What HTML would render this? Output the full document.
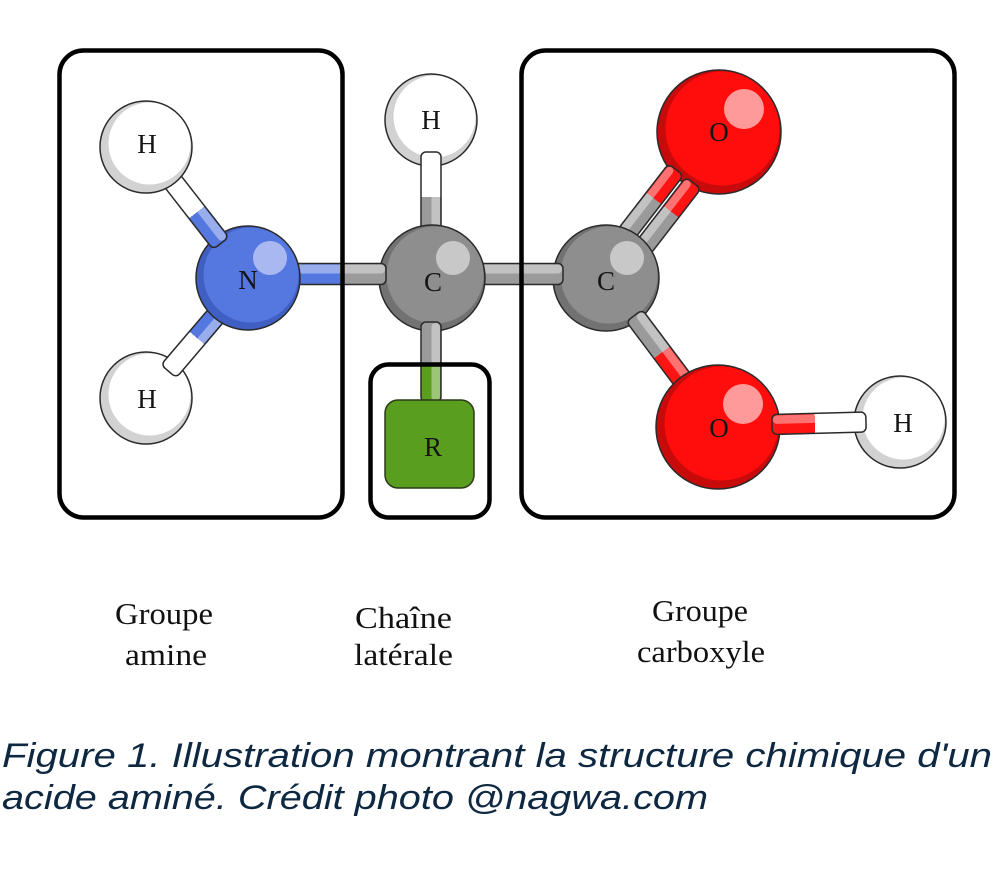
<!DOCTYPE html>
<html>
<head>
<meta charset="utf-8">
<style>
html,body{margin:0;padding:0;background:#fff;}
svg{display:block;}
</style>
</head>
<body>
<svg width="1002" height="876" viewBox="0 0 1002 876" xmlns="http://www.w3.org/2000/svg">
<defs>
  <linearGradient id="gB1"><stop offset="0.52" stop-color="#ffffff"/><stop offset="0.52" stop-color="#5577e0"/></linearGradient>
  <linearGradient id="gB2"><stop offset="0.47" stop-color="#5577e0"/><stop offset="0.47" stop-color="#ffffff"/></linearGradient>
  <linearGradient id="gB3"><stop offset="0.566" stop-color="#5577e0"/><stop offset="0.566" stop-color="#9a9a9a"/></linearGradient>
  <linearGradient id="gB4"><stop offset="0.417" stop-color="#ffffff"/><stop offset="0.417" stop-color="#9a9a9a"/></linearGradient>
  <linearGradient id="gB5"><stop offset="0.54" stop-color="#9a9a9a"/><stop offset="0.54" stop-color="#5a9e1e"/></linearGradient>
  <linearGradient id="gB7"><stop offset="0.59" stop-color="#9a9a9a"/><stop offset="0.59" stop-color="#ff1414"/></linearGradient>
  <linearGradient id="gB8"><stop offset="0.517" stop-color="#9a9a9a"/><stop offset="0.517" stop-color="#ff1414"/></linearGradient>
  <linearGradient id="gB9"><stop offset="0.457" stop-color="#ff1414"/><stop offset="0.457" stop-color="#ffffff"/></linearGradient>
</defs>

<g stroke-linejoin="round">
<!-- O1 -->
<circle cx="719" cy="132" r="62" fill="#c80a0a"/>
<circle cx="722.5" cy="128.5" r="57" fill="#ff0d0d"/>
<circle cx="744" cy="109" r="20" fill="#ff9a9a"/>
<circle cx="719" cy="132" r="62" fill="none" stroke="#2a2a2a" stroke-width="1.5"/>

<!-- B7a / B7b double bond -->
<g transform="translate(621.8,239.7) rotate(-52.3)">
  <rect x="0" y="-9.5" width="88.6" height="19" rx="5" fill="url(#gB7)" stroke="#2a2a2a" stroke-width="1.5"/>
  <rect x="1" y="-8.5" width="86.6" height="8" rx="4" fill="#fff" opacity="0.4"/>
</g>
<g transform="translate(639.2,253.1) rotate(-52.3)">
  <rect x="0" y="-9.5" width="88.6" height="19" rx="5" fill="url(#gB7)" stroke="#2a2a2a" stroke-width="1.5"/>
  <rect x="1" y="-8.5" width="86.6" height="8" rx="4" fill="#fff" opacity="0.4"/>
</g>

<!-- Cc -->
<circle cx="606" cy="278" r="53" fill="#727272"/>
<circle cx="609" cy="275" r="48.5" fill="#8e8e8e"/>
<circle cx="627" cy="258" r="17" fill="#c8c8c8"/>
<circle cx="606" cy="278" r="53" fill="none" stroke="#2a2a2a" stroke-width="1.5"/>

<!-- B8 -->
<g transform="translate(634.3,315.6) rotate(53.1)">
  <rect x="0" y="-10" width="89" height="20" rx="5" fill="url(#gB8)" stroke="#2a2a2a" stroke-width="1.5"/>
  <rect x="1" y="-9" width="87" height="8.5" rx="4" fill="#fff" opacity="0.4"/>
</g>

<!-- O2 -->
<circle cx="718" cy="427" r="62" fill="#c80a0a"/>
<circle cx="721.5" cy="423.5" r="57" fill="#ff0d0d"/>
<circle cx="743" cy="404" r="20" fill="#ff9a9a"/>
<circle cx="718" cy="427" r="62" fill="none" stroke="#2a2a2a" stroke-width="1.5"/>

<!-- H3 -->
<circle cx="900" cy="422" r="46" fill="#d2d2d2"/>
<circle cx="903.5" cy="418.5" r="41" fill="#ffffff"/>
<circle cx="900" cy="422" r="46" fill="none" stroke="#2a2a2a" stroke-width="1.5"/>

<!-- B9 -->
<g transform="translate(772,424.5) rotate(-1.5)">
  <rect x="0" y="-10" width="94" height="20" rx="5" fill="url(#gB9)" stroke="#2a2a2a" stroke-width="1.5"/>
  <rect x="1" y="-9" width="92" height="8.5" rx="4" fill="#fff" opacity="0.4"/>
</g>

<!-- B6 Ca-Cc -->
<g transform="translate(460,274)">
  <rect x="0" y="-10.5" width="103" height="21" rx="5" fill="#9a9a9a" stroke="#2a2a2a" stroke-width="1.5"/>
  <rect x="1" y="-9.5" width="101" height="9" rx="4" fill="#fff" opacity="0.4"/>
</g>

<!-- Ht -->
<circle cx="431" cy="120" r="46" fill="#d2d2d2"/>
<circle cx="434.5" cy="116.5" r="41" fill="#ffffff"/>
<circle cx="431" cy="120" r="46" fill="none" stroke="#2a2a2a" stroke-width="1.5"/>

<!-- B4 Ht-Ca -->
<g transform="translate(431,152) rotate(90)">
  <rect x="0" y="-10" width="108" height="20" rx="5" fill="url(#gB4)" stroke="#2a2a2a" stroke-width="1.5"/>
  <rect x="1" y="-9" width="106" height="8.5" rx="4" fill="#fff" opacity="0.4"/>
</g>

<!-- Ca -->
<circle cx="432" cy="278" r="53" fill="#727272"/>
<circle cx="435" cy="275" r="48.5" fill="#8e8e8e"/>
<circle cx="453" cy="258" r="17" fill="#c8c8c8"/>
<circle cx="432" cy="278" r="53" fill="none" stroke="#2a2a2a" stroke-width="1.5"/>

<!-- B3 N-Ca -->
<g transform="translate(280,274)">
  <rect x="0" y="-10.5" width="106" height="21" rx="5" fill="url(#gB3)" stroke="#2a2a2a" stroke-width="1.5"/>
  <rect x="1" y="-9.5" width="104" height="9" rx="4" fill="#fff" opacity="0.4"/>
</g>

<!-- B5 Ca-R -->
<g transform="translate(431,322) rotate(90)">
  <rect x="0" y="-10" width="80" height="20" rx="5" fill="url(#gB5)" stroke="#2a2a2a" stroke-width="1.5"/>
  <rect x="1" y="-9" width="78" height="8.5" rx="4" fill="#fff" opacity="0.4"/>
</g>

<!-- R -->
<rect x="385" y="400" width="89" height="88" rx="13" fill="#5a9e1f" stroke="#2a3a18" stroke-width="1.5"/>

<!-- H2 -->
<circle cx="146" cy="398" r="46" fill="#d2d2d2"/>
<circle cx="149.5" cy="394.5" r="41" fill="#ffffff"/>
<circle cx="146" cy="398" r="46" fill="none" stroke="#2a2a2a" stroke-width="1.5"/>

<!-- B2 N-H2 -->
<g transform="translate(222.1,308.5) rotate(130.4)">
  <rect x="0" y="-10" width="82.5" height="20" rx="5" fill="url(#gB2)" stroke="#2a2a2a" stroke-width="1.5"/>
  <rect x="1" y="-9" width="80.5" height="8.5" rx="4" fill="#fff" opacity="0.4"/>
</g>

<!-- N -->
<circle cx="248" cy="278" r="52" fill="#3f5fc2"/>
<circle cx="251" cy="275" r="47.5" fill="#5577e0"/>
<circle cx="270" cy="258" r="17" fill="#a9b8f0"/>
<circle cx="248" cy="278" r="52" fill="none" stroke="#2a2a2a" stroke-width="1.5"/>

<!-- B1 H1-N -->
<g transform="translate(170.6,178.6) rotate(52.1)">
  <rect x="0" y="-10" width="82" height="20" rx="5" fill="url(#gB1)" stroke="#2a2a2a" stroke-width="1.5"/>
  <rect x="1" y="-9" width="80" height="8.5" rx="4" fill="#fff" opacity="0.4"/>
</g>

<!-- H1 -->
<circle cx="146" cy="147" r="46" fill="#d2d2d2"/>
<circle cx="149.5" cy="143.5" r="41" fill="#ffffff"/>
<circle cx="146" cy="147" r="46" fill="none" stroke="#2a2a2a" stroke-width="1.5"/>
</g>

<!-- Boxes -->
<g fill="none" stroke="#000" stroke-width="4.5">
  <rect x="59.5" y="50.5" width="283" height="467" rx="24"/>
  <rect x="370.5" y="364.5" width="119" height="153" rx="18"/>
  <rect x="521.5" y="50.5" width="433" height="467" rx="24"/>
</g>

<!-- Atom labels -->
<g font-family="'Liberation Serif', serif" font-size="27" fill="#151515" text-anchor="middle">
  <text x="147" y="153">H</text>
  <text x="147" y="408">H</text>
  <text x="248" y="289">N</text>
  <text x="431" y="129">H</text>
  <text x="433" y="291">C</text>
  <text x="433" y="456">R</text>
  <text x="606" y="290">C</text>
  <text x="719" y="141">O</text>
  <text x="719" y="437">O</text>
  <text x="903" y="432">H</text>
</g>

<!-- Group labels -->
<g font-family="'Liberation Serif', serif" font-size="31" fill="#111">
  <text x="115" y="624" textLength="98" lengthAdjust="spacingAndGlyphs">Groupe</text>
  <text x="125" y="665" textLength="82" lengthAdjust="spacingAndGlyphs">amine</text>
  <text x="355" y="628" textLength="97" lengthAdjust="spacingAndGlyphs">Chaîne</text>
  <text x="354" y="665" textLength="99" lengthAdjust="spacingAndGlyphs">latérale</text>
  <text x="652" y="621" textLength="96" lengthAdjust="spacingAndGlyphs">Groupe</text>
  <text x="637" y="662" textLength="128" lengthAdjust="spacingAndGlyphs">carboxyle</text>
</g>

<!-- Caption -->
<g font-family="'Liberation Sans', sans-serif" font-style="italic" font-size="34" fill="#0e2841">
  <text x="2" y="767" textLength="990" lengthAdjust="spacingAndGlyphs">Figure 1. Illustration montrant la structure chimique d'un</text>
  <text x="2" y="809" textLength="706" lengthAdjust="spacingAndGlyphs">acide aminé. Crédit photo @nagwa.com</text>
</g>
</svg>
</body>
</html>
